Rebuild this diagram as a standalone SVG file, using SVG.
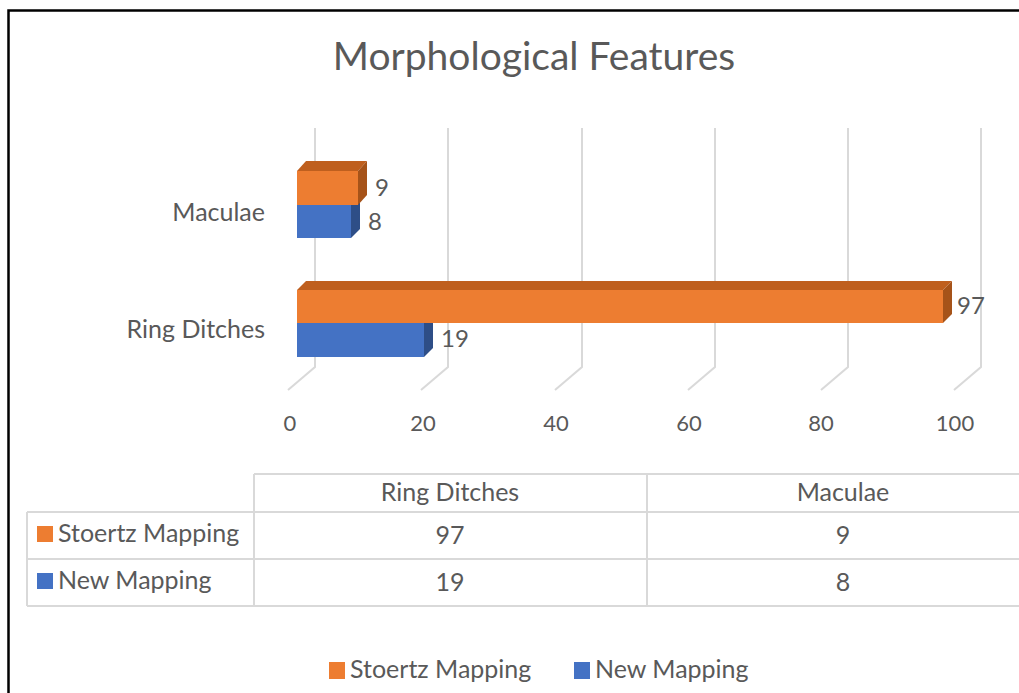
<svg xmlns="http://www.w3.org/2000/svg" width="1019" height="693" viewBox="0 0 1019 693">
<style>
text{font-family:Lato,"Liberation Sans",sans-serif;fill:#595959}
.grid{stroke:#D9D9D9;stroke-width:2;fill:none}
.tbl{stroke:#D9D9D9;stroke-width:2;fill:none}
.of{fill:#ED7D31}.ot{fill:#BF5F1E}.os{fill:#A65319}
.bf{fill:#4472C4}.bt{fill:#35599A}.bs{fill:#2E4E87}
.lbl{font-size:25px}
.val{font-size:24px}
.tk{font-size:22px;text-anchor:middle}
</style>
<rect x="0" y="0" width="1019" height="693" fill="#fff"/>
<path d="M8.5,700 V10.5 H1030" stroke="#000" stroke-width="2.5" fill="none"/>
<text x="534" y="70" font-size="39" text-anchor="middle">Morphological Features</text>
<g id="gridlines">
<path class="grid" d="M315,128 V367 L288,390"/>
<path class="grid" d="M448,128 V367 L421,390"/>
<path class="grid" d="M582,128 V367 L555,390"/>
<path class="grid" d="M715,128 V367 L688,390"/>
<path class="grid" d="M848,128 V367 L821,390"/>
<path class="grid" d="M981,128 V367 L954,390"/>
</g>
<g id="axis-labels">
<text class="tk" x="290" y="431">0</text>
<text class="tk" x="423" y="431">20</text>
<text class="tk" x="556" y="431">40</text>
<text class="tk" x="689" y="431">60</text>
<text class="tk" x="821" y="431">80</text>
<text class="tk" x="955" y="431">100</text>
<text class="lbl" x="265" y="221" text-anchor="end">Maculae</text>
<text class="lbl" x="265" y="338" text-anchor="end">Ring Ditches</text>
</g>
<g id="bar-maculae-new">
<polygon class="bt" points="297,205 306,196 360,196 351,205"/>
<polygon class="bs" points="351,205 360,196 360,229 351,238"/>
<rect class="bf" x="297" y="205" width="54" height="33"/>
</g>
<g id="bar-maculae-stoertz">
<polygon class="ot" points="297,171 306,161 367,161 358,171"/>
<polygon class="os" points="358,171 367,161 367,195 358,205"/>
<rect class="of" x="297" y="171" width="61" height="34"/>
</g>
<g id="bar-ring-new">
<polygon class="bs" points="424,323 433,314 433,348 424,357"/>
<rect class="bf" x="297" y="323" width="127" height="34"/>
</g>
<g id="bar-ring-stoertz">
<polygon class="ot" points="297,290 306,281 952,281 943,290"/>
<polygon class="os" points="943,290 952,281 952,314 943,323"/>
<rect class="of" x="297" y="290" width="646" height="33"/>
</g>
<g id="value-labels">
<text class="val" x="375" y="196">9</text>
<text class="val" x="368" y="230">8</text>
<text class="val" x="957" y="314">97</text>
<text class="val" x="441" y="347">19</text>
</g>
<g id="data-table">
<path class="tbl" d="M254,474 H1030 M254,474 V606 M647,474 V606 M27,512 H1030 M27,559 H1030 M27,606 H1030 M27,512 V606"/>
<text class="lbl" x="450" y="501" text-anchor="middle">Ring Ditches</text>
<text class="lbl" x="843" y="501" text-anchor="middle">Maculae</text>
<rect class="of" x="37" y="526" width="16" height="16"/>
<text class="lbl" x="58" y="542">Stoertz Mapping</text>
<rect class="bf" x="37" y="573" width="16" height="16"/>
<text class="lbl" x="58" y="589">New Mapping</text>
<text class="lbl" x="450" y="544" text-anchor="middle">97</text>
<text class="lbl" x="843" y="544" text-anchor="middle">9</text>
<text class="lbl" x="450" y="591" text-anchor="middle">19</text>
<text class="lbl" x="843" y="591" text-anchor="middle">8</text>
</g>
<g id="legend">
<rect class="of" x="329" y="662" width="16" height="17"/>
<text class="lbl" x="350" y="678">Stoertz Mapping</text>
<rect class="bf" x="574" y="662" width="16" height="17"/>
<text class="lbl" x="595" y="678">New Mapping</text>
</g>
</svg>
